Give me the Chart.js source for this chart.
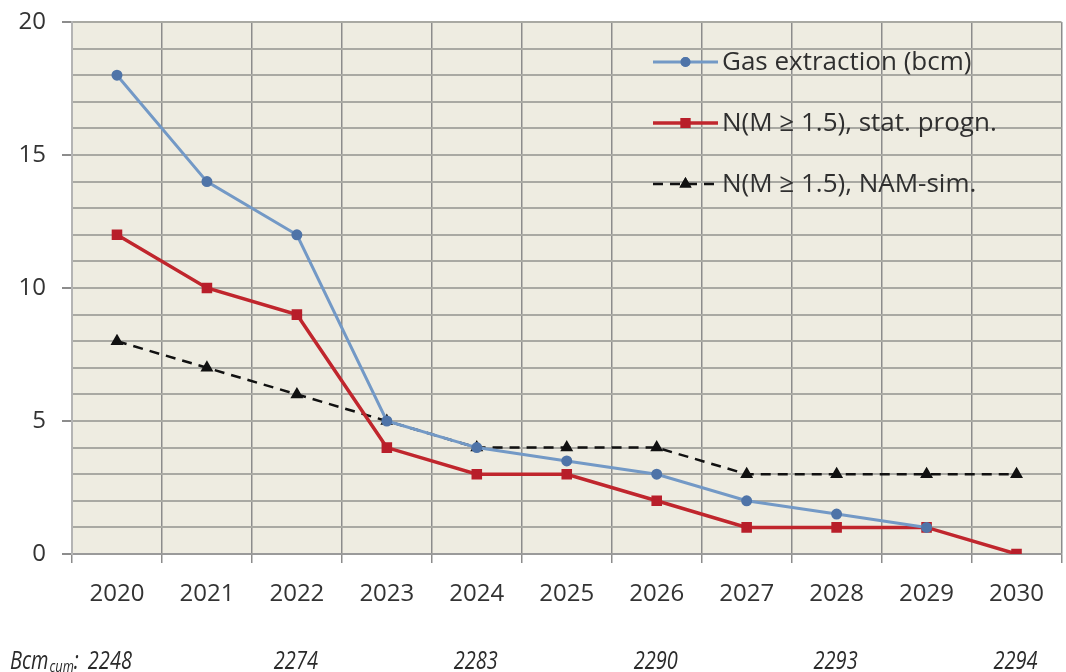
<!DOCTYPE html>
<html>
<head>
<meta charset="utf-8">
<script src="https://cdn.jsdelivr.net/npm/chart.js@4"></script>
<style>
  html, body { margin: 0; padding: 0; background: #ffffff; overflow: hidden; }
  #wrap { width: 1070px; height: 672px; position: relative; }
</style>
</head>
<body>
<div id="wrap"><canvas id="c" width="1070" height="672"></canvas></div>
<script>
// ---- data ----
const years = ['2020','2021','2022','2023','2024','2025','2026','2027','2028','2029','2030'];
const gasExtraction = [18, 14, 12, 5, 4, 3.5, 3, 2, 1.5, 1, null];
const statPrognosis = [12, 10, 9, 4, 3, 3, 2, 1, 1, 1, 0];
const namSimulation = [8, 7, 6, 5, 4, 4, 4, 3, 3, 3, 3];
const seriesNames = ['Gas extraction (bcm)', 'N(M \u2265 1.5), stat. progn.', 'N(M \u2265 1.5), NAM-sim.'];
const cumYears = ['2020', '2022', '2024', '2026', '2028', '2030'];
const cumValues = ['2248', '2274', '2283', '2290', '2293', '2294'];
const yTickLabels = [0, 5, 10, 15, 20];

const FONT = '"Open Sans", "Liberation Sans", sans-serif';

const bgPlugin = {
  id: 'plotBg',
  beforeDraw(chart) {
    const { ctx, chartArea: a } = chart;
    ctx.save();
    ctx.fillStyle = '#EEECE1';
    ctx.fillRect(a.left, a.top, a.right - a.left, a.bottom - a.top);
    ctx.restore();
  }
};

const legendPlugin = {
  id: 'customLegend',
  afterDatasetsDraw(chart) {
    const { ctx } = chart;
    const rows = [62, 123, 184];
    const x0 = 653, x1 = 718;
    chart.data.datasets.forEach((ds, i) => {
      const y = rows[i];
      ctx.save();
      ctx.strokeStyle = ds.borderColor;
      ctx.lineWidth = ds.borderWidth;
      ctx.setLineDash(ds.borderDash || []);
      ctx.beginPath(); ctx.moveTo(x0, y); ctx.lineTo(x1, y); ctx.stroke();
      ctx.setLineDash([]);
      Chart.helpers.drawPoint(ctx, {
        pointStyle: ds.pointStyle, radius: ds.pointRadius - 0.5, borderWidth: 1, rotation: 0
      }, (x0 + x1) / 2, y);
      ctx.fillStyle = ds.pointBackgroundColor;
      ctx.strokeStyle = ds.pointBorderColor;
      ctx.fill(); ctx.stroke();
      ctx.fillStyle = '#2f2f2f';
      ctx.font = '26px ' + FONT;
      ctx.textBaseline = 'middle';
      ctx.textAlign = 'left';
      ctx.fillText(seriesNames[i], 722, y + 1);
      ctx.restore();
    });
  }
};

// draws horizontally condensed italic text, returns advance width
function condText(ctx, txt, x, y, size, align) {
  const sx = 0.8;
  ctx.font = 'italic ' + size + 'px ' + FONT;
  const w = ctx.measureText(txt).width * sx;
  let left = x;
  if (align === 'center') left = x - w / 2;
  ctx.save();
  ctx.translate(left, y);
  ctx.scale(sx, 1);
  ctx.textAlign = 'left';
  ctx.fillText(txt, 0, 0);
  ctx.restore();
  return w;
}

const cumPlugin = {
  id: 'cumLabels',
  afterDraw(chart) {
    const { ctx } = chart;
    const xs = chart.scales.x;
    const yBase = 669;
    ctx.save();
    ctx.fillStyle = '#2a2a2a';
    ctx.textBaseline = 'alphabetic';
    cumYears.forEach((yr, i) => {
      const px = xs.getPixelForValue(years.indexOf(yr));
      if (i === 0) {
        let x = 10;
        x += condText(ctx, 'Bcm', x, yBase, 25, 'left') + 1;
        x += condText(ctx, 'cum', x, yBase + 3, 16, 'left');
        x += condText(ctx, ':', x, yBase, 25, 'left') + 9;
        condText(ctx, cumValues[i], x, yBase, 25, 'left');
      } else {
        condText(ctx, cumValues[i], px - 1, yBase, 25, 'center');
      }
    });
    ctx.restore();
  }
};

new Chart(document.getElementById('c'), {
  type: 'line',
  data: {
    labels: years,
    datasets: [
      {
        label: seriesNames[0], data: gasExtraction,
        borderColor: '#7399C6', borderWidth: 3, tension: 0,
        pointStyle: 'circle', pointRadius: 4,
        pointBackgroundColor: '#4F74A8', pointBorderColor: '#4F74A8', spanGaps: false
      },
      {
        label: seriesNames[1], data: statPrognosis,
        borderColor: '#C0262D', borderWidth: 3.5, tension: 0,
        pointStyle: 'rect', pointRadius: 5,
        pointBackgroundColor: '#B81E2A', pointBorderColor: '#B81E2A'
      },
      {
        label: seriesNames[2], data: namSimulation,
        borderColor: '#111111', borderWidth: 2.5, borderDash: [10, 7], tension: 0,
        pointStyle: 'triangle', pointRadius: 5,
        pointBackgroundColor: '#111111', pointBorderColor: '#111111'
      }
    ]
  },
  options: {
    responsive: false,
    animation: false,
    devicePixelRatio: 1,
    layout: { padding: { top: 22, left: 0, right: 0, bottom: 0 } },
    plugins: { legend: { display: false }, tooltip: { enabled: false } },
    scales: {
      x: {
        type: 'category',
        offset: true,
        afterFit(s) { s.height = 118; s.paddingLeft = 0; s.paddingRight = 0; },
        grid: {
          offset: true, color: '#8C8C8C', lineWidth: 1.5,
          drawTicks: true, tickLength: 9, tickColor: '#8C8C8C'
        },
        border: { display: true, color: '#9A9A9A', width: 2 },
        ticks: { color: '#333333', font: { family: FONT, size: 24 }, padding: 17, maxRotation: 0 }
      },
      y: {
        min: 0, max: 20,
        afterFit(s) { s.width = 72; s.paddingTop = 0; s.paddingBottom = 0; },
        grid: {
          color: '#A9A9A3', lineWidth: 2,
          drawTicks: true, tickLength: 10,
          tickColor: (c) => (yTickLabels.includes(c.tick && c.tick.value) ? '#8C8C8C' : 'rgba(0,0,0,0)')
        },
        border: { display: true, color: '#B4B4B4', width: 2 },
        ticks: {
          stepSize: 1, autoSkip: false,
          color: '#333333', font: { family: FONT, size: 24 }, padding: 16,
          callback: (v) => (yTickLabels.includes(v) ? String(v) : '')
        }
      }
    }
  },
  plugins: [bgPlugin, legendPlugin, cumPlugin]
});
</script>
</body>
</html>
